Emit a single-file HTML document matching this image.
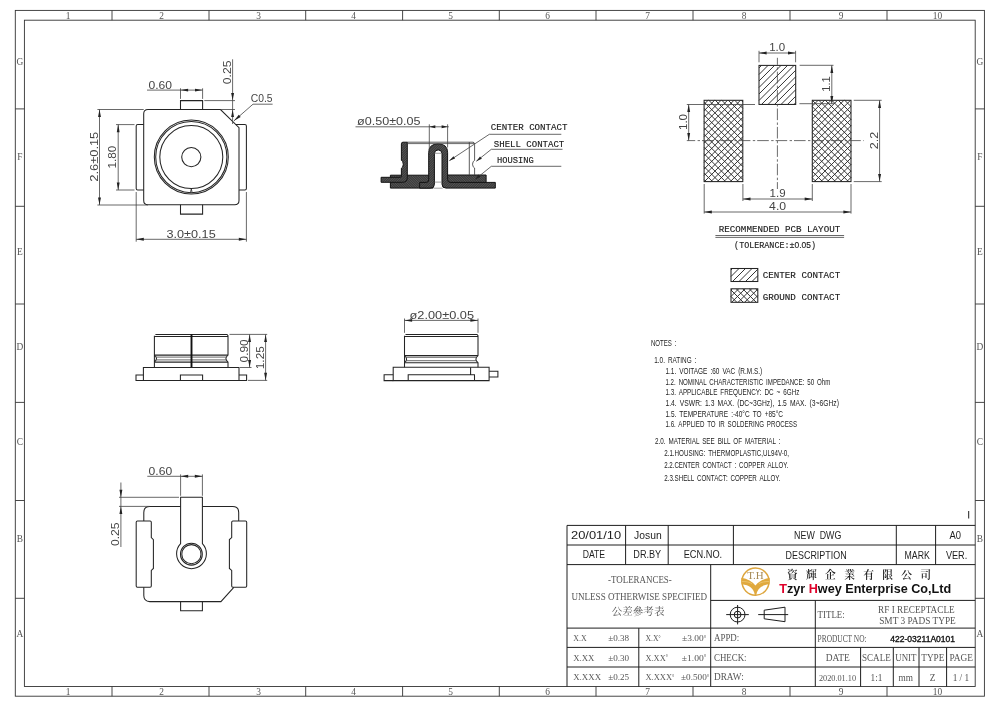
<!DOCTYPE html>
<html lang="en"><head><meta charset="utf-8"><title>RF I RECEPTACLE SMT 3 PADS TYPE 422-03211A0101</title>
<style>
html,body{margin:0;padding:0;background:#fff;}
body{width:1000px;height:707px;overflow:hidden;}
svg{display:block;will-change:transform;}
.o{fill:none;stroke:#242424;stroke-width:1.05;}
.ot{fill:none;stroke:#111;stroke-width:1.9;}
.f{fill:none;stroke:#333;stroke-width:0.9;}
.t{fill:none;stroke:#1e1e1e;stroke-width:1;}
.dl{fill:none;stroke:#424242;stroke-width:0.8;}
.cl{fill:none;stroke:#484848;stroke-width:0.8;stroke-dasharray:11.6 2.4 2.4 2;}
.ar{fill:#222;stroke:none;}
.h{fill:none;stroke:#2a2a2a;stroke-width:0.95;}
.sec{fill:#484848;stroke:#141414;stroke-width:1;stroke-linejoin:round;}
.d{font-family:"Liberation Sans", sans-serif;font-size:11px;fill:#444;}
.c{font-family:"Liberation Mono", monospace;font-size:9.9px;fill:#1a1a1a;stroke:#1a1a1a;stroke-width:0.15px;}
.n{font-family:"Liberation Sans", sans-serif;font-size:8.3px;fill:#222;word-spacing:1.6px;}
.tb{font-family:"Liberation Sans", sans-serif;font-size:10.4px;fill:#1e1e1e;}
.s{font-family:"Liberation Serif", serif;font-size:9.6px;fill:#555;}
.sn{font-family:"Liberation Serif", serif;font-size:9px;fill:#555;}
.k{font-family:"Liberation Serif", "Noto Serif CJK SC", serif;fill:#555;}
.b{font-family:"Liberation Sans", sans-serif;font-weight:bold;font-size:11.6px;fill:#111;}
</style></head><body>
<svg width="1000" height="707" viewBox="0 0 1000 707">
<rect x="0" y="0" width="1000" height="707" fill="#ffffff"/>
<g id="frame">
<rect class="f" x="15.30" y="10.40" width="969.10" height="685.80" />
<rect class="f" x="24.40" y="20.20" width="950.80" height="666.30" />
<line class="f" x1="112.00" y1="10.40" x2="112.00" y2="20.20" />
<line class="f" x1="112.00" y1="686.50" x2="112.00" y2="696.20" />
<line class="f" x1="209.00" y1="10.40" x2="209.00" y2="20.20" />
<line class="f" x1="209.00" y1="686.50" x2="209.00" y2="696.20" />
<line class="f" x1="305.70" y1="10.40" x2="305.70" y2="20.20" />
<line class="f" x1="305.70" y1="686.50" x2="305.70" y2="696.20" />
<line class="f" x1="402.60" y1="10.40" x2="402.60" y2="20.20" />
<line class="f" x1="402.60" y1="686.50" x2="402.60" y2="696.20" />
<line class="f" x1="499.30" y1="10.40" x2="499.30" y2="20.20" />
<line class="f" x1="499.30" y1="686.50" x2="499.30" y2="696.20" />
<line class="f" x1="596.00" y1="10.40" x2="596.00" y2="20.20" />
<line class="f" x1="596.00" y1="686.50" x2="596.00" y2="696.20" />
<line class="f" x1="693.00" y1="10.40" x2="693.00" y2="20.20" />
<line class="f" x1="693.00" y1="686.50" x2="693.00" y2="696.20" />
<line class="f" x1="790.00" y1="10.40" x2="790.00" y2="20.20" />
<line class="f" x1="790.00" y1="686.50" x2="790.00" y2="696.20" />
<line class="f" x1="887.00" y1="10.40" x2="887.00" y2="20.20" />
<line class="f" x1="887.00" y1="686.50" x2="887.00" y2="696.20" />
<line class="f" x1="15.30" y1="108.90" x2="24.40" y2="108.90" />
<line class="f" x1="975.20" y1="108.90" x2="984.40" y2="108.90" />
<line class="f" x1="15.30" y1="206.30" x2="24.40" y2="206.30" />
<line class="f" x1="975.20" y1="206.30" x2="984.40" y2="206.30" />
<line class="f" x1="15.30" y1="304.00" x2="24.40" y2="304.00" />
<line class="f" x1="975.20" y1="304.00" x2="984.40" y2="304.00" />
<line class="f" x1="15.30" y1="402.40" x2="24.40" y2="402.40" />
<line class="f" x1="975.20" y1="402.40" x2="984.40" y2="402.40" />
<line class="f" x1="15.30" y1="500.50" x2="24.40" y2="500.50" />
<line class="f" x1="975.20" y1="500.50" x2="984.40" y2="500.50" />
<line class="f" x1="15.30" y1="598.30" x2="24.40" y2="598.30" />
<line class="f" x1="975.20" y1="598.30" x2="984.40" y2="598.30" />
<text class="s" x="68.00" y="18.60" style="font-size:9.4px" text-anchor="middle" >1</text>
<text class="s" x="68.00" y="694.60" style="font-size:9.4px" text-anchor="middle" >1</text>
<text class="s" x="161.50" y="18.60" style="font-size:9.4px" text-anchor="middle" >2</text>
<text class="s" x="161.50" y="694.60" style="font-size:9.4px" text-anchor="middle" >2</text>
<text class="s" x="258.50" y="18.60" style="font-size:9.4px" text-anchor="middle" >3</text>
<text class="s" x="258.50" y="694.60" style="font-size:9.4px" text-anchor="middle" >3</text>
<text class="s" x="353.50" y="18.60" style="font-size:9.4px" text-anchor="middle" >4</text>
<text class="s" x="353.50" y="694.60" style="font-size:9.4px" text-anchor="middle" >4</text>
<text class="s" x="450.50" y="18.60" style="font-size:9.4px" text-anchor="middle" >5</text>
<text class="s" x="450.50" y="694.60" style="font-size:9.4px" text-anchor="middle" >5</text>
<text class="s" x="547.50" y="18.60" style="font-size:9.4px" text-anchor="middle" >6</text>
<text class="s" x="547.50" y="694.60" style="font-size:9.4px" text-anchor="middle" >6</text>
<text class="s" x="647.50" y="18.60" style="font-size:9.4px" text-anchor="middle" >7</text>
<text class="s" x="647.50" y="694.60" style="font-size:9.4px" text-anchor="middle" >7</text>
<text class="s" x="744.00" y="18.60" style="font-size:9.4px" text-anchor="middle" >8</text>
<text class="s" x="744.00" y="694.60" style="font-size:9.4px" text-anchor="middle" >8</text>
<text class="s" x="841.00" y="18.60" style="font-size:9.4px" text-anchor="middle" >9</text>
<text class="s" x="841.00" y="694.60" style="font-size:9.4px" text-anchor="middle" >9</text>
<text class="s" x="937.50" y="18.60" style="font-size:9.4px" text-anchor="middle" >10</text>
<text class="s" x="937.50" y="694.60" style="font-size:9.4px" text-anchor="middle" >10</text>
<text class="s" x="19.90" y="65.20" style="font-size:9.4px" text-anchor="middle" >G</text>
<text class="s" x="979.90" y="65.20" style="font-size:9.4px" text-anchor="middle" >G</text>
<text class="s" x="19.90" y="160.20" style="font-size:9.4px" text-anchor="middle" >F</text>
<text class="s" x="979.90" y="160.20" style="font-size:9.4px" text-anchor="middle" >F</text>
<text class="s" x="19.90" y="255.20" style="font-size:9.4px" text-anchor="middle" >E</text>
<text class="s" x="979.90" y="255.20" style="font-size:9.4px" text-anchor="middle" >E</text>
<text class="s" x="19.90" y="350.20" style="font-size:9.4px" text-anchor="middle" >D</text>
<text class="s" x="979.90" y="350.20" style="font-size:9.4px" text-anchor="middle" >D</text>
<text class="s" x="19.90" y="445.20" style="font-size:9.4px" text-anchor="middle" >C</text>
<text class="s" x="979.90" y="445.20" style="font-size:9.4px" text-anchor="middle" >C</text>
<text class="s" x="19.90" y="541.70" style="font-size:9.4px" text-anchor="middle" >B</text>
<text class="s" x="979.90" y="541.70" style="font-size:9.4px" text-anchor="middle" >B</text>
<text class="s" x="19.90" y="636.70" style="font-size:9.4px" text-anchor="middle" >A</text>
<text class="s" x="979.90" y="636.70" style="font-size:9.4px" text-anchor="middle" >A</text>
</g>
<g id="titleblock">
<line class="t" x1="567.00" y1="525.40" x2="975.20" y2="525.40" />
<line class="t" x1="567.00" y1="545.00" x2="975.20" y2="545.00" />
<line class="t" x1="567.00" y1="564.60" x2="975.20" y2="564.60" />
<line class="t" x1="710.70" y1="600.40" x2="975.20" y2="600.40" />
<line class="t" x1="567.00" y1="628.10" x2="975.20" y2="628.10" />
<line class="t" x1="567.00" y1="647.40" x2="975.20" y2="647.40" />
<line class="t" x1="567.00" y1="667.00" x2="975.20" y2="667.00" />
<line class="t" x1="567.00" y1="525.40" x2="567.00" y2="686.50" />
<line class="t" x1="625.60" y1="525.40" x2="625.60" y2="564.60" />
<line class="t" x1="668.20" y1="525.40" x2="668.20" y2="564.60" />
<line class="t" x1="733.40" y1="525.40" x2="733.40" y2="564.60" />
<line class="t" x1="896.30" y1="525.40" x2="896.30" y2="564.60" />
<line class="t" x1="935.60" y1="525.40" x2="935.60" y2="564.60" />
<line class="t" x1="710.70" y1="564.60" x2="710.70" y2="686.50" />
<line class="t" x1="815.30" y1="600.40" x2="815.30" y2="686.50" />
<line class="t" x1="638.80" y1="628.10" x2="638.80" y2="686.50" />
<line class="t" x1="860.60" y1="647.40" x2="860.60" y2="686.50" />
<line class="t" x1="893.30" y1="647.40" x2="893.30" y2="686.50" />
<line class="t" x1="919.00" y1="647.40" x2="919.00" y2="686.50" />
<line class="t" x1="946.60" y1="647.40" x2="946.60" y2="686.50" />
<line class="t" x1="968.70" y1="511.00" x2="968.70" y2="518.50" />
<text class="tb" x="571.00" y="539.30" textLength="50.20" lengthAdjust="spacingAndGlyphs" >20/01/10</text>
<text class="tb" x="634.10" y="539.30" textLength="27.60" lengthAdjust="spacingAndGlyphs" >Josun</text>
<text class="tb" x="794.10" y="538.50" textLength="47.20" lengthAdjust="spacingAndGlyphs" style="white-space:pre">NEW  DWG</text>
<text class="tb" x="949.40" y="538.50" textLength="11.50" lengthAdjust="spacingAndGlyphs" >A0</text>
<text class="tb" x="582.70" y="558.20" textLength="22.40" lengthAdjust="spacingAndGlyphs" >DATE</text>
<text class="tb" x="633.30" y="558.20" textLength="27.90" lengthAdjust="spacingAndGlyphs" >DR.BY</text>
<text class="tb" x="683.70" y="558.20" textLength="38.50" lengthAdjust="spacingAndGlyphs" >ECN.NO.</text>
<text class="tb" x="785.60" y="558.60" textLength="61.00" lengthAdjust="spacingAndGlyphs" >DESCRIPTION</text>
<text class="tb" x="904.50" y="558.60" textLength="25.30" lengthAdjust="spacingAndGlyphs" >MARK</text>
<text class="tb" x="945.90" y="558.60" textLength="21.40" lengthAdjust="spacingAndGlyphs" >VER.</text>
<text class="s" x="608.00" y="583.00" style="font-size:10px" textLength="63.80" lengthAdjust="spacingAndGlyphs" >-TOLERANCES-</text>
<text class="s" x="571.40" y="599.80" style="font-size:10px" textLength="135.60" lengthAdjust="spacingAndGlyphs" >UNLESS OTHERWISE SPECIFIED</text>
<text class="k" x="611.70" y="615.30" style="font-size:10.4px" textLength="52.80" lengthAdjust="spacingAndGlyphs" >公差參考表</text>
<text class="sn" x="573.20" y="641.10" textLength="13.40" lengthAdjust="spacingAndGlyphs" >X.X</text>
<text class="sn" x="608.20" y="641.10" textLength="20.90" lengthAdjust="spacingAndGlyphs" >±0.38</text>
<text class="sn" x="645.40" y="641.10" textLength="15.20" lengthAdjust="spacingAndGlyphs" >X.X<tspan style="font-size:6px" dy="-1.2">°</tspan></text>
<text class="sn" x="682.10" y="641.10" textLength="24.20" lengthAdjust="spacingAndGlyphs" >±3.00<tspan style="font-size:6px" dy="-1.2">°</tspan></text>
<text class="sn" x="714.00" y="641.10" style="font-size:9.6px" textLength="25.30" lengthAdjust="spacingAndGlyphs" >APPD:</text>
<text class="sn" x="573.20" y="660.50" textLength="21.30" lengthAdjust="spacingAndGlyphs" >X.XX</text>
<text class="sn" x="608.20" y="660.50" textLength="20.90" lengthAdjust="spacingAndGlyphs" >±0.30</text>
<text class="sn" x="645.40" y="660.50" textLength="22.60" lengthAdjust="spacingAndGlyphs" >X.XX<tspan style="font-size:6px" dy="-1.2">°</tspan></text>
<text class="sn" x="681.70" y="660.50" textLength="24.60" lengthAdjust="spacingAndGlyphs" >±1.00<tspan style="font-size:6px" dy="-1.2">°</tspan></text>
<text class="sn" x="714.00" y="660.50" style="font-size:9.6px" textLength="32.60" lengthAdjust="spacingAndGlyphs" >CHECK:</text>
<text class="sn" x="573.20" y="680.30" textLength="27.90" lengthAdjust="spacingAndGlyphs" >X.XXX</text>
<text class="sn" x="608.20" y="680.30" textLength="20.90" lengthAdjust="spacingAndGlyphs" >±0.25</text>
<text class="sn" x="645.40" y="680.30" textLength="29.00" lengthAdjust="spacingAndGlyphs" >X.XXX<tspan style="font-size:6px" dy="-1.2">°</tspan></text>
<text class="sn" x="681.00" y="680.30" textLength="28.20" lengthAdjust="spacingAndGlyphs" >±0.500<tspan style="font-size:6px" dy="-1.2">°</tspan></text>
<text class="sn" x="714.00" y="680.30" style="font-size:9.6px" textLength="29.70" lengthAdjust="spacingAndGlyphs" >DRAW:</text>
<g id="logo">
<defs><clipPath id="lc"><circle cx="755.5" cy="581.6" r="14.3"/></clipPath></defs>
<g transform="translate(755.5 581.6)" clip-path="none">
<circle cx="0" cy="0" r="13.55" fill="#fff" stroke="#dda53c" stroke-width="1.5"/>
<path d="M-14.2 -3.9 C-8 -2.9 -3 0 0 3.9 C3 0 8 -2.9 14.2 -3.9 L13.9 2.7 C6 3.5 1.6 7 0.7 13.6 L-0.7 13.6 C-1.6 7 -6 3.5 -13.9 2.7 Z" fill="#e0a93e"/>
<path d="M-13.8 -0.2 C-9 -0.1 -6 0.6 -3.5 2.0 M13.8 -0.2 C9 -0.1 6 0.6 3.5 2.0" fill="none" stroke="#ecc46e" stroke-width="0.9"/>
</g>
<text class="s" x="755.50" y="578.60" text-anchor="middle" textLength="16.50" lengthAdjust="spacingAndGlyphs" style="font-size:10.8px;fill:#a68a55">T.H</text>
</g>
<text class="k" x="792.40" y="579.40" text-anchor="middle" style="font-size:10.8px;fill:#222;font-weight:600">資</text>
<text class="k" x="811.45" y="579.40" text-anchor="middle" style="font-size:10.8px;fill:#222;font-weight:600">輝</text>
<text class="k" x="830.50" y="579.40" text-anchor="middle" style="font-size:10.8px;fill:#222;font-weight:600">企</text>
<text class="k" x="849.55" y="579.40" text-anchor="middle" style="font-size:10.8px;fill:#222;font-weight:600">業</text>
<text class="k" x="868.60" y="579.40" text-anchor="middle" style="font-size:10.8px;fill:#222;font-weight:600">有</text>
<text class="k" x="887.65" y="579.40" text-anchor="middle" style="font-size:10.8px;fill:#222;font-weight:600">限</text>
<text class="k" x="906.70" y="579.40" text-anchor="middle" style="font-size:10.8px;fill:#222;font-weight:600">公</text>
<text class="k" x="925.75" y="579.40" text-anchor="middle" style="font-size:10.8px;fill:#222;font-weight:600">司</text>
<text class="b" style="font-size:13.1px" x="779.2" y="593.0" textLength="172" lengthAdjust="spacingAndGlyphs"><tspan fill="#e0002a">T</tspan>zyr <tspan fill="#e0002a">H</tspan>wey Enterprise Co,Ltd</text>
<circle class="t" cx="737.60" cy="614.60" r="7.40" />
<circle class="t" cx="737.60" cy="614.60" r="3.40" />
<line class="t" x1="726.20" y1="614.60" x2="748.80" y2="614.60" />
<line class="t" x1="737.60" y1="605.00" x2="737.60" y2="624.40" />
<path class="t" d="M764.2 610.2 L785 607.2 L785 621.7 L764.2 618.8 Z" />
<line class="t" x1="758.20" y1="614.60" x2="788.20" y2="614.60" />
<text class="s" x="817.60" y="617.60" style="font-size:9.8px" textLength="27.10" lengthAdjust="spacingAndGlyphs" >TITLE:</text>
<text class="s" x="878.10" y="612.50" style="font-size:9.8px" textLength="76.60" lengthAdjust="spacingAndGlyphs" >RF I RECEPTACLE</text>
<text class="s" x="879.20" y="623.80" style="font-size:9.8px" textLength="76.60" lengthAdjust="spacingAndGlyphs" >SMT 3 PADS TYPE</text>
<text class="s" x="817.60" y="641.70" style="font-size:9.6px" textLength="49.00" lengthAdjust="spacingAndGlyphs" >PRODUCT NO:</text>
<text class="tb" x="890.30" y="641.70" textLength="64.80" lengthAdjust="spacingAndGlyphs" style="font-size:8.2px;fill:#111;stroke:#111;stroke-width:0.35px">422-03211A0101</text>
<text class="s" x="825.70" y="660.60" style="font-size:9.8px" textLength="24.10" lengthAdjust="spacingAndGlyphs" >DATE</text>
<text class="s" x="862.00" y="660.60" style="font-size:9.8px" textLength="28.70" lengthAdjust="spacingAndGlyphs" >SCALE</text>
<text class="s" x="895.30" y="660.60" style="font-size:9.8px" textLength="21.20" lengthAdjust="spacingAndGlyphs" >UNIT</text>
<text class="s" x="921.30" y="660.60" style="font-size:9.8px" textLength="23.00" lengthAdjust="spacingAndGlyphs" >TYPE</text>
<text class="s" x="949.40" y="660.60" style="font-size:9.8px" textLength="23.50" lengthAdjust="spacingAndGlyphs" >PAGE</text>
<text class="sn" x="818.90" y="680.50" style="font-size:9.2px" textLength="37.20" lengthAdjust="spacingAndGlyphs" >2020.01.10</text>
<text class="sn" x="876.50" y="680.50" style="font-size:9.3px" text-anchor="middle" >1:1</text>
<text class="sn" x="905.70" y="680.50" style="font-size:9.3px" text-anchor="middle" >mm</text>
<text class="sn" x="932.60" y="680.50" style="font-size:9.3px" text-anchor="middle" >Z</text>
<text class="sn" x="960.90" y="680.50" style="font-size:9.3px" text-anchor="middle" >1 / 1</text>
</g>
<g id="topview">
<path class="o" d="M148.0 109.5 L220.5 109.5 L239.0 127.6 L239.0 200.39999999999998 Q239.0 204.7 234.7 204.7 L148.0 204.7 Q143.7 204.7 143.7 200.39999999999998 L143.7 113.8 Q143.7 109.5 148.0 109.5 Z" />
<path class="o" d="M180.5 109.5 L180.5 100.6 L202.6 100.6 L202.6 109.5" />
<path class="o" d="M180.5 204.7 L180.5 214.1 L202.6 214.1 L202.6 204.7" />
<path class="o" d="M143.7 124.4 L137.7 124.4 Q136.2 124.4 136.2 125.9 L136.2 188.5 Q136.2 190 137.7 190 L143.7 190" />
<path class="o" d="M235.65 124.4 L244.9 124.4 Q246.4 124.4 246.4 125.9 L246.4 188.5 Q246.4 190 244.9 190 L239.0 190" />
<circle class="o" cx="191.30" cy="157.05" r="37.00" />
<circle class="o" cx="191.30" cy="157.05" r="35.60" />
<circle class="o" cx="191.30" cy="157.05" r="31.50" />
<circle class="o" cx="191.30" cy="157.05" r="9.60" />
<path class="o" d="M190.5 192.55 L191.3 188.65 L192.10000000000002 192.55" style="stroke-width:0.8"/>
<line class="dl" x1="180.50" y1="88.30" x2="180.50" y2="98.90" />
<line class="dl" x1="202.60" y1="88.30" x2="202.60" y2="98.90" />
<line class="dl" x1="147.00" y1="90.10" x2="202.60" y2="90.10" />
<polygon class="ar" points="180.50,90.10 188.10,88.65 188.10,91.55"/>
<polygon class="ar" points="202.60,90.10 195.00,91.55 195.00,88.65"/>
<text class="d" x="148.40" y="88.60" textLength="23.60" lengthAdjust="spacingAndGlyphs" >0.60</text>
<line class="dl" x1="232.60" y1="59.30" x2="232.60" y2="124.00" />
<line class="dl" x1="204.30" y1="100.60" x2="235.00" y2="100.60" />
<line class="dl" x1="220.50" y1="109.50" x2="235.00" y2="109.50" />
<polygon class="ar" points="232.60,100.60 231.15,93.00 234.05,93.00"/>
<polygon class="ar" points="232.60,109.50 234.05,117.10 231.15,117.10"/>
<text class="d" x="231.00" y="84.20" textLength="23.60" lengthAdjust="spacingAndGlyphs" transform="rotate(-90 231.00 84.20)" >0.25</text>
<path class="dl" d="M234.0 120.8 L253.0 104.2 L272.6 104.2" />
<polygon class="ar" points="234.00,120.80 238.78,114.72 240.69,116.91"/>
<text class="d" x="250.80" y="102.20" textLength="21.80" lengthAdjust="spacingAndGlyphs" >C0.5</text>
<line class="dl" x1="97.40" y1="109.50" x2="143.70" y2="109.50" />
<line class="dl" x1="97.40" y1="205.00" x2="148.00" y2="205.00" />
<line class="dl" x1="99.50" y1="109.50" x2="99.50" y2="205.00" />
<polygon class="ar" points="99.50,109.50 100.95,117.10 98.05,117.10"/>
<polygon class="ar" points="99.50,205.00 98.05,197.40 100.95,197.40"/>
<text class="d" x="97.60" y="181.70" textLength="50.00" lengthAdjust="spacingAndGlyphs" transform="rotate(-90 97.60 181.70)" >2.6±0.15</text>
<line class="dl" x1="116.00" y1="124.60" x2="134.50" y2="124.60" />
<line class="dl" x1="116.00" y1="190.00" x2="134.50" y2="190.00" />
<line class="dl" x1="118.20" y1="124.60" x2="118.20" y2="190.00" />
<polygon class="ar" points="118.20,124.60 119.65,132.20 116.75,132.20"/>
<polygon class="ar" points="118.20,190.00 116.75,182.40 119.65,182.40"/>
<text class="d" x="115.80" y="168.40" textLength="22.60" lengthAdjust="spacingAndGlyphs" transform="rotate(-90 115.80 168.40)" >1.80</text>
<line class="dl" x1="136.20" y1="192.00" x2="136.20" y2="241.70" />
<line class="dl" x1="246.40" y1="192.00" x2="246.40" y2="241.70" />
<line class="dl" x1="136.20" y1="239.30" x2="246.40" y2="239.30" />
<polygon class="ar" points="136.20,239.30 143.80,237.85 143.80,240.75"/>
<polygon class="ar" points="246.40,239.30 238.80,240.75 238.80,237.85"/>
<text class="d" x="166.50" y="237.60" textLength="49.20" lengthAdjust="spacingAndGlyphs" >3.0±0.15</text>
</g>
<g id="side1">
<path class="o" d="M155.4 334.4 L227.0 334.4 L228.0 335.7 L228.0 355.09999999999997 Q223.8 358.59999999999997 228.0 362.09999999999997 L228.0 367.5 M154.4 367.5 L154.4 362.09999999999997 Q158.6 358.59999999999997 154.4 355.09999999999997 L154.4 335.7 Z" />
<line class="o" x1="154.40" y1="336.40" x2="228.00" y2="336.40" />
<line class="o" x1="154.40" y1="355.10" x2="228.00" y2="355.10" />
<line class="dl" x1="156.00" y1="357.10" x2="226.40" y2="357.10" />
<line class="dl" x1="156.30" y1="359.90" x2="226.10" y2="359.90" />
<line class="o" x1="154.40" y1="362.10" x2="228.00" y2="362.10" />
<line class="ot" x1="191.50" y1="334.40" x2="191.50" y2="367.50" />
<path class="o" d="M143.4 367.5 L239 367.5 L239 380.4 L143.4 380.4 Z" />
<path class="o" d="M143.4 375 L136 375 L136 380.4 L143.4 380.4" />
<path class="o" d="M239 375 L246.6 375 L246.6 380.4 L239 380.4" />
<path class="o" d="M180.4 380.4 L180.4 375 L202.6 375 L202.6 380.4" />
<line class="dl" x1="229.50" y1="334.40" x2="267.20" y2="334.40" />
<line class="dl" x1="240.00" y1="367.50" x2="251.50" y2="367.50" />
<line class="dl" x1="248.00" y1="380.40" x2="267.20" y2="380.40" />
<line class="dl" x1="249.60" y1="334.40" x2="249.60" y2="367.50" />
<polygon class="ar" points="249.60,334.40 251.05,342.00 248.15,342.00"/>
<polygon class="ar" points="249.60,367.50 248.15,359.90 251.05,359.90"/>
<line class="dl" x1="265.60" y1="334.40" x2="265.60" y2="380.40" />
<polygon class="ar" points="265.60,334.40 267.05,342.00 264.15,342.00"/>
<polygon class="ar" points="265.60,380.40 264.15,372.80 267.05,372.80"/>
<text class="d" x="248.00" y="362.40" textLength="23.00" lengthAdjust="spacingAndGlyphs" transform="rotate(-90 248.00 362.40)" >0.90</text>
<text class="d" x="264.00" y="369.20" textLength="23.00" lengthAdjust="spacingAndGlyphs" transform="rotate(-90 264.00 369.20)" >1.25</text>
</g>
<g id="side2">
<path class="o" d="M405.5 334.4 L477.0 334.4 L478.0 335.7 L478.0 355.59999999999997 Q473.8 359.15 478.0 362.7 L478.0 367.3 M404.5 367.3 L404.5 362.7 Q408.7 359.15 404.5 355.59999999999997 L404.5 335.7 Z" />
<line class="o" x1="404.50" y1="336.40" x2="478.00" y2="336.40" />
<line class="o" x1="404.50" y1="355.60" x2="478.00" y2="355.60" />
<line class="dl" x1="406.10" y1="357.30" x2="476.40" y2="357.30" />
<line class="dl" x1="406.40" y1="360.70" x2="476.10" y2="360.70" />
<line class="o" x1="404.50" y1="362.70" x2="478.00" y2="362.70" />
<path class="o" d="M393.2 367.3 L489.1 367.3 L489.1 380.6 L393.2 380.6 Z" />
<path class="o" d="M393.2 374.8 L384.1 374.8 L384.1 380.6 L393.2 380.6" />
<path class="o" d="M489.1 371.2 L497.9 371.2 L497.9 377 L489.1 377" />
<path class="o" d="M470.6 367.3 L470.6 374.8 M408.2 380.6 L408.2 374.8 L474.5 374.8 L474.5 380.6" />
<line class="dl" x1="404.50" y1="318.50" x2="404.50" y2="332.80" />
<line class="dl" x1="478.00" y1="318.50" x2="478.00" y2="332.80" />
<line class="dl" x1="404.50" y1="320.40" x2="478.00" y2="320.40" />
<polygon class="ar" points="404.50,320.40 412.10,318.95 412.10,321.85"/>
<polygon class="ar" points="478.00,320.40 470.40,321.85 470.40,318.95"/>
<text class="d" x="409.50" y="318.70" textLength="64.50" lengthAdjust="spacingAndGlyphs" >ø2.00±0.05</text>
</g>
<g id="bottomview">
<path class="o" d="M180.6 506.4 L149.8 506.4 Q143.8 506.4 143.8 512.4 L143.8 521.0 M143.8 587.3 L143.8 595.6 Q143.8 601.6 149.8 601.6 L220.9 601.6 L233.8 587.3 M238.7 521.0 L238.7 512.4 Q238.7 506.4 232.7 506.4 L202.4 506.4" />
<path class="o" d="M137.4 521.0 L150.1 521.0 Q151.3 521.0 151.3 522.2 L151.3 537.6 L153.4 539.6 L153.4 568.4 L151.3 570.4 L151.3 586.1 Q151.3 587.3 150.1 587.3 L137.4 587.3 Q136.2 587.3 136.2 586.1 L136.2 522.2 Q136.2 521.0 137.4 521.0 Z" />
<path class="o" d="M245.5 521.0 L232.9 521.0 Q231.7 521.0 231.7 522.2 L231.7 537.6 L229.4 539.6 L229.4 568.4 L231.7 570.4 L231.7 586.1 Q231.7 587.3 232.9 587.3 L245.5 587.3 Q246.7 587.3 246.7 586.1 L246.7 522.2 Q246.7 521.0 245.5 521.0 Z" />
<path class="o" d="M180.6 497.3 L202.4 497.3 L202.4 543.6 A14.9 14.9 0 1 1 180.6 543.6 Z" />
<circle class="o" cx="191.40" cy="554.20" r="10.90" />
<circle class="o" cx="191.40" cy="554.20" r="9.60" />
<path class="o" d="M180.6 601.6 L180.6 610.7 L202.4 610.7 L202.4 601.6" />
<line class="dl" x1="180.60" y1="474.40" x2="180.60" y2="495.80" />
<line class="dl" x1="202.40" y1="474.40" x2="202.40" y2="495.80" />
<line class="dl" x1="147.30" y1="476.30" x2="202.40" y2="476.30" />
<polygon class="ar" points="180.60,476.30 188.20,474.85 188.20,477.75"/>
<polygon class="ar" points="202.40,476.30 194.80,477.75 194.80,474.85"/>
<text class="d" x="148.60" y="474.80" textLength="23.60" lengthAdjust="spacingAndGlyphs" >0.60</text>
<line class="dl" x1="119.00" y1="497.30" x2="179.00" y2="497.30" />
<line class="dl" x1="119.00" y1="506.40" x2="149.80" y2="506.40" />
<line class="dl" x1="120.90" y1="482.50" x2="120.90" y2="547.00" />
<polygon class="ar" points="120.90,497.30 119.45,489.70 122.35,489.70"/>
<polygon class="ar" points="120.90,506.40 122.35,514.00 119.45,514.00"/>
<text class="d" x="119.20" y="546.00" textLength="23.60" lengthAdjust="spacingAndGlyphs" transform="rotate(-90 119.20 546.00)" >0.25</text>
</g>
<g id="section">
<clipPath id="sc1"><path d="M390.4 175.2 L433 175.2 L433 188.1 L390.4 188.1 Z"/></clipPath>
<path d="M390.4 175.2 L433 175.2 L433 188.1 L390.4 188.1 Z" fill="#3b3b3b"/>
<path d="M328.0 140.0L378.0 190.0M330.4 140.0L380.4 190.0M332.8 140.0L382.8 190.0M335.2 140.0L385.2 190.0M337.6 140.0L387.6 190.0M340.0 140.0L390.0 190.0M342.4 140.0L392.4 190.0M344.8 140.0L394.8 190.0M347.2 140.0L397.2 190.0M349.6 140.0L399.6 190.0M352.0 140.0L402.0 190.0M354.4 140.0L404.4 190.0M356.8 140.0L406.8 190.0M359.2 140.0L409.2 190.0M361.6 140.0L411.6 190.0M364.0 140.0L414.0 190.0M366.4 140.0L416.4 190.0M368.8 140.0L418.8 190.0M371.2 140.0L421.2 190.0M373.6 140.0L423.6 190.0M376.0 140.0L426.0 190.0M378.4 140.0L428.4 190.0M380.8 140.0L430.8 190.0M383.2 140.0L433.2 190.0M385.6 140.0L435.6 190.0M388.0 140.0L438.0 190.0M390.4 140.0L440.4 190.0M392.8 140.0L442.8 190.0M395.2 140.0L445.2 190.0M397.6 140.0L447.6 190.0M400.0 140.0L450.0 190.0M402.4 140.0L452.4 190.0M404.8 140.0L454.8 190.0M407.2 140.0L457.2 190.0M409.6 140.0L459.6 190.0M412.0 140.0L462.0 190.0M414.4 140.0L464.4 190.0M416.8 140.0L466.8 190.0M419.2 140.0L469.2 190.0M421.6 140.0L471.6 190.0M424.0 140.0L474.0 190.0M426.4 140.0L476.4 190.0M428.8 140.0L478.8 190.0M431.2 140.0L481.2 190.0M433.6 140.0L483.6 190.0M436.0 140.0L486.0 190.0M438.4 140.0L488.4 190.0M440.8 140.0L490.8 190.0M443.2 140.0L493.2 190.0M445.6 140.0L495.6 190.0M448.0 140.0L498.0 190.0M450.4 140.0L500.4 190.0M452.8 140.0L502.8 190.0M455.2 140.0L505.2 190.0M457.6 140.0L507.6 190.0M460.0 140.0L510.0 190.0M462.4 140.0L512.4 190.0M464.8 140.0L514.8 190.0M467.2 140.0L517.2 190.0M469.6 140.0L519.6 190.0M472.0 140.0L522.0 190.0M474.4 140.0L524.4 190.0M476.8 140.0L526.8 190.0M479.2 140.0L529.2 190.0M481.6 140.0L531.6 190.0M484.0 140.0L534.0 190.0M486.4 140.0L536.4 190.0M488.8 140.0L538.8 190.0M491.2 140.0L541.2 190.0M493.6 140.0L543.6 190.0M496.0 140.0L546.0 190.0" clip-path="url(#sc1)" fill="none" stroke="#6e6e6e" stroke-width="0.55"/>
<path d="M390.4 175.2 L433 175.2 L433 188.1 L390.4 188.1 Z" fill="none" stroke="#141414" stroke-width="1" stroke-linejoin="round"/>
<clipPath id="sc2"><path d="M443 175.0 L486.1 175.0 L486.1 182.6 L443 182.6 Z"/></clipPath>
<path d="M443 175.0 L486.1 175.0 L486.1 182.6 L443 182.6 Z" fill="#3b3b3b"/>
<path d="M328.0 140.0L378.0 190.0M330.4 140.0L380.4 190.0M332.8 140.0L382.8 190.0M335.2 140.0L385.2 190.0M337.6 140.0L387.6 190.0M340.0 140.0L390.0 190.0M342.4 140.0L392.4 190.0M344.8 140.0L394.8 190.0M347.2 140.0L397.2 190.0M349.6 140.0L399.6 190.0M352.0 140.0L402.0 190.0M354.4 140.0L404.4 190.0M356.8 140.0L406.8 190.0M359.2 140.0L409.2 190.0M361.6 140.0L411.6 190.0M364.0 140.0L414.0 190.0M366.4 140.0L416.4 190.0M368.8 140.0L418.8 190.0M371.2 140.0L421.2 190.0M373.6 140.0L423.6 190.0M376.0 140.0L426.0 190.0M378.4 140.0L428.4 190.0M380.8 140.0L430.8 190.0M383.2 140.0L433.2 190.0M385.6 140.0L435.6 190.0M388.0 140.0L438.0 190.0M390.4 140.0L440.4 190.0M392.8 140.0L442.8 190.0M395.2 140.0L445.2 190.0M397.6 140.0L447.6 190.0M400.0 140.0L450.0 190.0M402.4 140.0L452.4 190.0M404.8 140.0L454.8 190.0M407.2 140.0L457.2 190.0M409.6 140.0L459.6 190.0M412.0 140.0L462.0 190.0M414.4 140.0L464.4 190.0M416.8 140.0L466.8 190.0M419.2 140.0L469.2 190.0M421.6 140.0L471.6 190.0M424.0 140.0L474.0 190.0M426.4 140.0L476.4 190.0M428.8 140.0L478.8 190.0M431.2 140.0L481.2 190.0M433.6 140.0L483.6 190.0M436.0 140.0L486.0 190.0M438.4 140.0L488.4 190.0M440.8 140.0L490.8 190.0M443.2 140.0L493.2 190.0M445.6 140.0L495.6 190.0M448.0 140.0L498.0 190.0M450.4 140.0L500.4 190.0M452.8 140.0L502.8 190.0M455.2 140.0L505.2 190.0M457.6 140.0L507.6 190.0M460.0 140.0L510.0 190.0M462.4 140.0L512.4 190.0M464.8 140.0L514.8 190.0M467.2 140.0L517.2 190.0M469.6 140.0L519.6 190.0M472.0 140.0L522.0 190.0M474.4 140.0L524.4 190.0M476.8 140.0L526.8 190.0M479.2 140.0L529.2 190.0M481.6 140.0L531.6 190.0M484.0 140.0L534.0 190.0M486.4 140.0L536.4 190.0M488.8 140.0L538.8 190.0M491.2 140.0L541.2 190.0M493.6 140.0L543.6 190.0M496.0 140.0L546.0 190.0" clip-path="url(#sc2)" fill="none" stroke="#6e6e6e" stroke-width="0.55"/>
<path d="M443 175.0 L486.1 175.0 L486.1 182.6 L443 182.6 Z" fill="none" stroke="#141414" stroke-width="1" stroke-linejoin="round"/>
<clipPath id="sc3"><path d="M403.0 142.2 L407.3 142.2 L407.3 177.4 Q407.3 182.3 402.4 182.3 L381.1 182.3 L381.1 177.3 L400.2 177.3 Q401.4 177.3 401.4 176.1 L401.4 168.2 L402.7 167.0 Q403.9 164.2 402.7 161.6 L401.4 160.2 L401.4 143.8 Q401.4 142.2 403.0 142.2 Z"/></clipPath>
<path d="M403.0 142.2 L407.3 142.2 L407.3 177.4 Q407.3 182.3 402.4 182.3 L381.1 182.3 L381.1 177.3 L400.2 177.3 Q401.4 177.3 401.4 176.1 L401.4 168.2 L402.7 167.0 Q403.9 164.2 402.7 161.6 L401.4 160.2 L401.4 143.8 Q401.4 142.2 403.0 142.2 Z" fill="#3b3b3b"/>
<path d="M378.0 140.0L328.0 190.0M380.4 140.0L330.4 190.0M382.8 140.0L332.8 190.0M385.2 140.0L335.2 190.0M387.6 140.0L337.6 190.0M390.0 140.0L340.0 190.0M392.4 140.0L342.4 190.0M394.8 140.0L344.8 190.0M397.2 140.0L347.2 190.0M399.6 140.0L349.6 190.0M402.0 140.0L352.0 190.0M404.4 140.0L354.4 190.0M406.8 140.0L356.8 190.0M409.2 140.0L359.2 190.0M411.6 140.0L361.6 190.0M414.0 140.0L364.0 190.0M416.4 140.0L366.4 190.0M418.8 140.0L368.8 190.0M421.2 140.0L371.2 190.0M423.6 140.0L373.6 190.0M426.0 140.0L376.0 190.0M428.4 140.0L378.4 190.0M430.8 140.0L380.8 190.0M433.2 140.0L383.2 190.0M435.6 140.0L385.6 190.0M438.0 140.0L388.0 190.0M440.4 140.0L390.4 190.0M442.8 140.0L392.8 190.0M445.2 140.0L395.2 190.0M447.6 140.0L397.6 190.0M450.0 140.0L400.0 190.0M452.4 140.0L402.4 190.0M454.8 140.0L404.8 190.0M457.2 140.0L407.2 190.0M459.6 140.0L409.6 190.0M462.0 140.0L412.0 190.0M464.4 140.0L414.4 190.0M466.8 140.0L416.8 190.0M469.2 140.0L419.2 190.0M471.6 140.0L421.6 190.0M474.0 140.0L424.0 190.0M476.4 140.0L426.4 190.0M478.8 140.0L428.8 190.0M481.2 140.0L431.2 190.0M483.6 140.0L433.6 190.0M486.0 140.0L436.0 190.0M488.4 140.0L438.4 190.0M490.8 140.0L440.8 190.0M493.2 140.0L443.2 190.0M495.6 140.0L445.6 190.0M498.0 140.0L448.0 190.0M500.4 140.0L450.4 190.0M502.8 140.0L452.8 190.0M505.2 140.0L455.2 190.0M507.6 140.0L457.6 190.0M510.0 140.0L460.0 190.0M512.4 140.0L462.4 190.0M514.8 140.0L464.8 190.0M517.2 140.0L467.2 190.0M519.6 140.0L469.6 190.0M522.0 140.0L472.0 190.0M524.4 140.0L474.4 190.0M526.8 140.0L476.8 190.0M529.2 140.0L479.2 190.0M531.6 140.0L481.6 190.0M534.0 140.0L484.0 190.0M536.4 140.0L486.4 190.0M538.8 140.0L488.8 190.0M541.2 140.0L491.2 190.0M543.6 140.0L493.6 190.0M546.0 140.0L496.0 190.0" clip-path="url(#sc3)" fill="none" stroke="#6e6e6e" stroke-width="0.55"/>
<path d="M403.0 142.2 L407.3 142.2 L407.3 177.4 Q407.3 182.3 402.4 182.3 L381.1 182.3 L381.1 177.3 L400.2 177.3 Q401.4 177.3 401.4 176.1 L401.4 168.2 L402.7 167.0 Q403.9 164.2 402.7 161.6 L401.4 160.2 L401.4 143.8 Q401.4 142.2 403.0 142.2 Z" fill="none" stroke="#141414" stroke-width="1" stroke-linejoin="round"/>
<clipPath id="sc4"><path d="M419.6 182.4 L426.2 182.4 Q428.7 182.4 428.7 179.9 L428.7 152.6 Q428.7 143.9 438.2 143.9 Q447.6 143.9 447.6 152.6 L447.6 179.6 Q447.6 182.4 450.4 182.4 L495.3 182.4 L495.3 188.1 L446 188.1 Q442 188.1 442 184.2 L442 153.8 Q442 149.9 438.2 149.9 Q434.4 149.9 434.4 153.8 L434.4 184.2 Q434.4 188.1 430.4 188.1 L419.6 188.1 Z"/></clipPath>
<path d="M419.6 182.4 L426.2 182.4 Q428.7 182.4 428.7 179.9 L428.7 152.6 Q428.7 143.9 438.2 143.9 Q447.6 143.9 447.6 152.6 L447.6 179.6 Q447.6 182.4 450.4 182.4 L495.3 182.4 L495.3 188.1 L446 188.1 Q442 188.1 442 184.2 L442 153.8 Q442 149.9 438.2 149.9 Q434.4 149.9 434.4 153.8 L434.4 184.2 Q434.4 188.1 430.4 188.1 L419.6 188.1 Z" fill="#3b3b3b"/>
<path d="M378.0 140.0L328.0 190.0M380.4 140.0L330.4 190.0M382.8 140.0L332.8 190.0M385.2 140.0L335.2 190.0M387.6 140.0L337.6 190.0M390.0 140.0L340.0 190.0M392.4 140.0L342.4 190.0M394.8 140.0L344.8 190.0M397.2 140.0L347.2 190.0M399.6 140.0L349.6 190.0M402.0 140.0L352.0 190.0M404.4 140.0L354.4 190.0M406.8 140.0L356.8 190.0M409.2 140.0L359.2 190.0M411.6 140.0L361.6 190.0M414.0 140.0L364.0 190.0M416.4 140.0L366.4 190.0M418.8 140.0L368.8 190.0M421.2 140.0L371.2 190.0M423.6 140.0L373.6 190.0M426.0 140.0L376.0 190.0M428.4 140.0L378.4 190.0M430.8 140.0L380.8 190.0M433.2 140.0L383.2 190.0M435.6 140.0L385.6 190.0M438.0 140.0L388.0 190.0M440.4 140.0L390.4 190.0M442.8 140.0L392.8 190.0M445.2 140.0L395.2 190.0M447.6 140.0L397.6 190.0M450.0 140.0L400.0 190.0M452.4 140.0L402.4 190.0M454.8 140.0L404.8 190.0M457.2 140.0L407.2 190.0M459.6 140.0L409.6 190.0M462.0 140.0L412.0 190.0M464.4 140.0L414.4 190.0M466.8 140.0L416.8 190.0M469.2 140.0L419.2 190.0M471.6 140.0L421.6 190.0M474.0 140.0L424.0 190.0M476.4 140.0L426.4 190.0M478.8 140.0L428.8 190.0M481.2 140.0L431.2 190.0M483.6 140.0L433.6 190.0M486.0 140.0L436.0 190.0M488.4 140.0L438.4 190.0M490.8 140.0L440.8 190.0M493.2 140.0L443.2 190.0M495.6 140.0L445.6 190.0M498.0 140.0L448.0 190.0M500.4 140.0L450.4 190.0M502.8 140.0L452.8 190.0M505.2 140.0L455.2 190.0M507.6 140.0L457.6 190.0M510.0 140.0L460.0 190.0M512.4 140.0L462.4 190.0M514.8 140.0L464.8 190.0M517.2 140.0L467.2 190.0M519.6 140.0L469.6 190.0M522.0 140.0L472.0 190.0M524.4 140.0L474.4 190.0M526.8 140.0L476.8 190.0M529.2 140.0L479.2 190.0M531.6 140.0L481.6 190.0M534.0 140.0L484.0 190.0M536.4 140.0L486.4 190.0M538.8 140.0L488.8 190.0M541.2 140.0L491.2 190.0M543.6 140.0L493.6 190.0M546.0 140.0L496.0 190.0" clip-path="url(#sc4)" fill="none" stroke="#6e6e6e" stroke-width="0.55"/>
<path d="M419.6 182.4 L426.2 182.4 Q428.7 182.4 428.7 179.9 L428.7 152.6 Q428.7 143.9 438.2 143.9 Q447.6 143.9 447.6 152.6 L447.6 179.6 Q447.6 182.4 450.4 182.4 L495.3 182.4 L495.3 188.1 L446 188.1 Q442 188.1 442 184.2 L442 153.8 Q442 149.9 438.2 149.9 Q434.4 149.9 434.4 153.8 L434.4 184.2 Q434.4 188.1 430.4 188.1 L419.6 188.1 Z" fill="none" stroke="#141414" stroke-width="1" stroke-linejoin="round"/>
<line class="dl" x1="434.60" y1="153.30" x2="441.70" y2="153.30" style="stroke:#888"/>
<line class="dl" x1="434.60" y1="182.10" x2="441.70" y2="182.10" style="stroke:#888"/>
<line class="dl" x1="433.60" y1="188.20" x2="442.80" y2="188.20" style="stroke:#888"/>
<line class="dl" x1="407.30" y1="142.20" x2="473.20" y2="142.20" style="stroke:#333;stroke-width:0.8"/>
<line class="dl" x1="407.30" y1="143.60" x2="474.40" y2="143.60" />
<path class="dl" d="M469.3 142.2 L469.3 174.9 M473.0 142.2 Q474.6 142.4 474.6 144.4 L474.6 160.4 L473.2 161.6 Q471.8 164.2 473.2 166.8 L474.6 168.0 L474.6 174.9" style="stroke:#333;stroke-width:0.8"/>
<line class="dl" x1="429.30" y1="124.30" x2="429.30" y2="150.00" />
<line class="dl" x1="447.60" y1="124.30" x2="447.60" y2="147.50" />
<line class="dl" x1="355.50" y1="126.80" x2="448.80" y2="126.80" />
<polygon class="ar" points="429.30,126.80 435.30,125.35 435.30,128.25"/>
<polygon class="ar" points="447.60,126.80 441.60,128.25 441.60,125.35"/>
<text class="d" x="357.00" y="125.00" textLength="63.50" lengthAdjust="spacingAndGlyphs" >ø0.50±0.05</text>
<path class="dl" d="M449.3 160.7 L489.3 134.3 L561.3 134.3" />
<polygon class="ar" points="449.30,160.70 453.46,156.14 455.09,158.55"/>
<path class="dl" d="M476.3 161.3 L491.3 149.3 L562.5 149.3" />
<polygon class="ar" points="476.30,161.30 480.05,156.40 481.88,158.65"/>
<path class="dl" d="M475.0 179.5 L491.3 166.3 L561.3 166.3" />
<polygon class="ar" points="475.00,179.50 478.75,174.60 480.58,176.85"/>
<text class="c" x="490.80" y="130.00" textLength="76.70" lengthAdjust="spacingAndGlyphs" xml:space="preserve">CENTER CONTACT</text>
<text class="c" x="493.80" y="147.00" textLength="70.50" lengthAdjust="spacingAndGlyphs" >SHELL CONTACT</text>
<text class="c" x="497.00" y="163.30" textLength="36.80" lengthAdjust="spacingAndGlyphs" >HOUSING</text>
</g>
<g id="pcb">
<path class="h" d="M759.0 67.97L761.57 65.4M759.0 74.47L768.07 65.4M759.0 80.97L774.57 65.4M759.0 87.47L781.07 65.4M759.0 93.97L787.57 65.4M759.0 100.47L794.07 65.4M761.52 104.45L795.7 70.27M768.02 104.45L795.7 76.77M774.52 104.45L795.7 83.27M781.02 104.45L795.7 89.77M787.52 104.45L795.7 96.27M794.02 104.45L795.7 102.77" />
<path class="h" d="M704.1 104.31L708.11 100.3M704.1 110.78L714.58 100.3M704.1 117.25L721.05 100.3M704.1 123.72L727.52 100.3M704.1 130.19L733.99 100.3M704.1 136.66L740.46 100.3M704.1 143.13L742.8 104.43M704.1 149.6L742.8 110.9M704.1 156.07L742.8 117.37M704.1 162.54L742.8 123.84M704.1 169.01L742.8 130.31M704.1 175.48L742.8 136.78M704.45 181.6L742.8 143.25M710.92 181.6L742.8 149.72M717.39 181.6L742.8 156.19M723.86 181.6L742.8 162.66M730.33 181.6L742.8 169.13M736.8 181.6L742.8 175.6" />
<path class="h" d="M704.1 179.64L706.06 181.6M704.1 173.17L712.53 181.6M704.1 166.7L719.0 181.6M704.1 160.23L725.47 181.6M704.1 153.76L731.94 181.6M704.1 147.29L738.41 181.6M704.1 140.82L742.8 179.52M704.1 134.35L742.8 173.05M704.1 127.88L742.8 166.58M704.1 121.41L742.8 160.11M704.1 114.94L742.8 153.64M704.1 108.47L742.8 147.17M704.1 102.0L742.8 140.7M708.87 100.3L742.8 134.23M715.34 100.3L742.8 127.76M721.81 100.3L742.8 121.29M728.28 100.3L742.8 114.82M734.75 100.3L742.8 108.35M741.22 100.3L742.8 101.88" />
<path class="h" d="M812.3 106.1L818.1 100.3M812.3 112.57L824.57 100.3M812.3 119.04L831.04 100.3M812.3 125.51L837.51 100.3M812.3 131.98L843.98 100.3M812.3 138.45L850.45 100.3M812.3 144.92L851.0 106.22M812.3 151.39L851.0 112.69M812.3 157.86L851.0 119.16M812.3 164.33L851.0 125.63M812.3 170.8L851.0 132.1M812.3 177.27L851.0 138.57M814.44 181.6L851.0 145.04M820.91 181.6L851.0 151.51M827.38 181.6L851.0 157.98M833.85 181.6L851.0 164.45M840.32 181.6L851.0 170.92M846.79 181.6L851.0 177.39" />
<path class="h" d="M812.3 177.85L816.05 181.6M812.3 171.38L822.52 181.6M812.3 164.91L828.99 181.6M812.3 158.44L835.46 181.6M812.3 151.97L841.93 181.6M812.3 145.5L848.4 181.6M812.3 139.03L851.0 177.73M812.3 132.56L851.0 171.26M812.3 126.09L851.0 164.79M812.3 119.62L851.0 158.32M812.3 113.15L851.0 151.85M812.3 106.68L851.0 145.38M812.39 100.3L851.0 138.91M818.86 100.3L851.0 132.44M825.33 100.3L851.0 125.97M831.8 100.3L851.0 119.5M838.27 100.3L851.0 113.03M844.74 100.3L851.0 106.56" />
<rect class="o" x="759.00" y="65.40" width="36.70" height="39.05" />
<rect class="o" x="704.10" y="100.30" width="38.70" height="81.30" />
<rect class="o" x="812.30" y="100.30" width="38.70" height="81.30" />
<line class="cl" x1="777.40" y1="57.80" x2="777.40" y2="189.00" stroke-dashoffset="4.5"/>
<line class="cl" x1="686.80" y1="140.60" x2="863.80" y2="140.60" stroke-dashoffset="3.2"/>
<line class="dl" x1="759.00" y1="50.80" x2="759.00" y2="62.30" />
<line class="dl" x1="795.60" y1="50.80" x2="795.60" y2="62.30" />
<line class="dl" x1="759.00" y1="53.00" x2="795.60" y2="53.00" />
<polygon class="ar" points="759.00,53.00 766.60,51.55 766.60,54.45"/>
<polygon class="ar" points="795.60,53.00 788.00,54.45 788.00,51.55"/>
<text class="d" x="769.20" y="51.20" textLength="16.00" lengthAdjust="spacingAndGlyphs" >1.0</text>
<line class="dl" x1="799.60" y1="65.30" x2="833.50" y2="65.30" />
<line class="dl" x1="799.40" y1="103.70" x2="834.00" y2="103.70" />
<line class="dl" x1="831.80" y1="65.30" x2="831.80" y2="103.70" />
<polygon class="ar" points="831.80,65.30 833.25,72.90 830.35,72.90"/>
<polygon class="ar" points="831.80,103.70 830.35,96.10 833.25,96.10"/>
<text class="d" x="830.20" y="91.80" textLength="15.50" lengthAdjust="spacingAndGlyphs" transform="rotate(-90 830.20 91.80)" >1.1</text>
<line class="dl" x1="853.70" y1="100.30" x2="881.70" y2="100.30" />
<line class="dl" x1="853.70" y1="181.60" x2="881.70" y2="181.60" />
<line class="dl" x1="879.60" y1="100.30" x2="879.60" y2="181.60" />
<polygon class="ar" points="879.60,100.30 881.05,107.90 878.15,107.90"/>
<polygon class="ar" points="879.60,181.60 878.15,174.00 881.05,174.00"/>
<text class="d" x="878.00" y="149.20" textLength="17.40" lengthAdjust="spacingAndGlyphs" transform="rotate(-90 878.00 149.20)" >2.2</text>
<line class="dl" x1="686.80" y1="104.50" x2="755.00" y2="104.50" />
<line class="dl" x1="688.70" y1="104.50" x2="688.70" y2="140.60" />
<polygon class="ar" points="688.70,104.50 690.15,112.10 687.25,112.10"/>
<polygon class="ar" points="688.70,140.60 687.25,133.00 690.15,133.00"/>
<text class="d" x="686.90" y="130.00" textLength="16.00" lengthAdjust="spacingAndGlyphs" transform="rotate(-90 686.90 130.00)" >1.0</text>
<line class="dl" x1="742.90" y1="184.00" x2="742.90" y2="201.00" />
<line class="dl" x1="812.30" y1="184.00" x2="812.30" y2="201.00" />
<line class="dl" x1="742.90" y1="199.00" x2="812.30" y2="199.00" />
<polygon class="ar" points="742.90,199.00 750.50,197.55 750.50,200.45"/>
<polygon class="ar" points="812.30,199.00 804.70,200.45 804.70,197.55"/>
<text class="d" x="777.60" y="196.60" text-anchor="middle" textLength="16.00" lengthAdjust="spacingAndGlyphs" >1.9</text>
<line class="dl" x1="704.20" y1="184.00" x2="704.20" y2="213.60" />
<line class="dl" x1="851.00" y1="184.00" x2="851.00" y2="213.60" />
<line class="dl" x1="704.20" y1="212.00" x2="851.00" y2="212.00" />
<polygon class="ar" points="704.20,212.00 711.80,210.55 711.80,213.45"/>
<polygon class="ar" points="851.00,212.00 843.40,213.45 843.40,210.55"/>
<text class="d" x="777.60" y="209.90" text-anchor="middle" textLength="17.00" lengthAdjust="spacingAndGlyphs" >4.0</text>
<text class="c" x="718.80" y="231.60" textLength="121.40" lengthAdjust="spacingAndGlyphs" >RECOMMENDED PCB LAYOUT</text>
<line class="dl" x1="715.40" y1="235.50" x2="844.10" y2="235.50" />
<line class="dl" x1="715.40" y1="237.40" x2="844.10" y2="237.40" />
<text class="c" x="734.10" y="248.20" textLength="81.90" lengthAdjust="spacingAndGlyphs" >(TOLERANCE:±<tspan style="font-family:&quot;Liberation Sans&quot;,sans-serif">0.05</tspan>)</text>
<path class="h" d="M731.0 270.0L732.5 268.5M731.0 276.5L739.0 268.5M732.5 281.5L745.5 268.5M739.0 281.5L752.0 268.5M745.5 281.5L757.8 269.2M752.0 281.5L757.8 275.7" />
<rect class="o" x="731.00" y="268.50" width="26.80" height="13.00" />
<path class="h" d="M731.0 290.0L732.2 288.8M731.0 296.47L738.67 288.8M731.64 302.3L745.14 288.8M738.11 302.3L751.61 288.8M744.58 302.3L757.8 289.08M751.05 302.3L757.8 295.55M757.52 302.3L757.8 302.02" />
<path class="h" d="M731.0 296.47L736.83 302.3M731.0 290.0L743.3 302.3M736.27 288.8L749.77 302.3M742.74 288.8L756.24 302.3M749.21 288.8L757.8 297.39M755.68 288.8L757.8 290.92" />
<rect class="o" x="731.00" y="288.80" width="26.80" height="13.50" />
<text class="c" x="762.70" y="278.40" textLength="77.50" lengthAdjust="spacingAndGlyphs" >CENTER CONTACT</text>
<text class="c" x="762.70" y="299.70" textLength="77.50" lengthAdjust="spacingAndGlyphs" >GROUND CONTACT</text>
</g>
<g id="notes">
<text class="n" x="650.90" y="346.40" textLength="25.50" lengthAdjust="spacingAndGlyphs" >NOTES :</text>
<text class="n" x="654.30" y="363.30" textLength="42.10" lengthAdjust="spacingAndGlyphs" >1.0. RATING :</text>
<text class="n" x="665.50" y="374.20" textLength="96.70" lengthAdjust="spacingAndGlyphs" >1.1. VOITAGE :60 VAC (R.M.S.)</text>
<text class="n" x="665.50" y="384.60" textLength="164.80" lengthAdjust="spacingAndGlyphs" >1.2. NOMINAL CHARACTERISTIC IMPEDANCE: 50 Ohm</text>
<text class="n" x="665.50" y="395.00" textLength="133.90" lengthAdjust="spacingAndGlyphs" >1.3. APPLICABLE FREQUENCY: DC ~ 6GHz</text>
<text class="n" x="665.50" y="405.90" textLength="173.40" lengthAdjust="spacingAndGlyphs" >1.4. VSWR: 1.3 MAX. (DC~3GHz), 1.5 MAX. (3~6GHz)</text>
<text class="n" x="665.50" y="416.60" textLength="117.50" lengthAdjust="spacingAndGlyphs" >1.5. TEMPERATURE :-40°C TO +85°C</text>
<text class="n" x="665.50" y="427.00" textLength="131.50" lengthAdjust="spacingAndGlyphs" >1.6. APPLIED TO IR SOLDERING PROCESS</text>
<text class="n" x="655.10" y="444.40" textLength="125.30" lengthAdjust="spacingAndGlyphs" >2.0. MATERIAL SEE BILL OF MATERIAL :</text>
<text class="n" x="664.20" y="456.10" textLength="124.80" lengthAdjust="spacingAndGlyphs" >2.1.HOUSING: THERMOPLASTIC,UL94V-0,</text>
<text class="n" x="664.20" y="468.30" textLength="124.00" lengthAdjust="spacingAndGlyphs" >2.2.CENTER CONTACT : COPPER ALLOY.</text>
<text class="n" x="664.20" y="480.80" textLength="116.20" lengthAdjust="spacingAndGlyphs" >2.3.SHELL CONTACT: COPPER ALLOY.</text>
</g>
</svg>
</body></html>
